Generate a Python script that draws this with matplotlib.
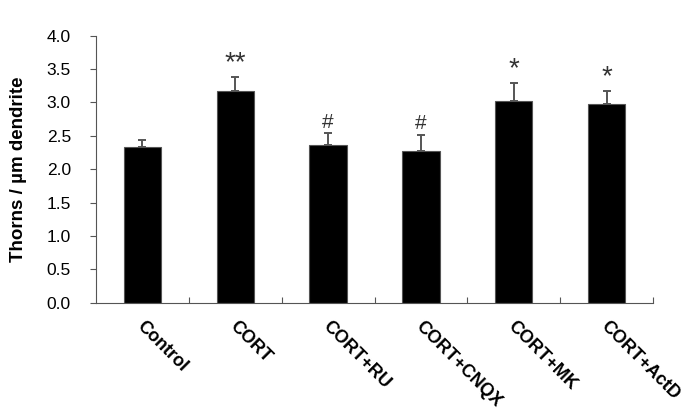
import matplotlib
matplotlib.use("Agg")
import matplotlib.pyplot as plt
import matplotlib.transforms as mtransforms
import numpy as np

# ======================================================
# DATA
# ======================================================

groups = ["Control", "CORT", "CORT+RU", "CORT+CNQX", "CORT+MK", "CORT+ActD"]
means = [2.33, 3.17, 2.36, 2.27, 3.02, 2.98]
errors = [0.11, 0.21, 0.18, 0.25, 0.27, 0.19]
marks = ["", "**", "#", "#", "*", "*"]

# ======================================================
# PLOT
# ======================================================

plt.rcParams["font.family"] = ["Liberation Sans", "DejaVu Sans"]

fig = plt.figure(figsize=(7, 4.2), dpi=100)
ax = fig.add_axes([0.137, 0.279, 0.796, 0.636])

x = np.arange(len(groups))

ax.bar(x, means, width=0.4, color="black", edgecolor="#555555", linewidth=0.8, zorder=2)
ax.errorbar(x, means, yerr=[np.zeros(len(errors)), errors], fmt="none",
            ecolor="#555555", elinewidth=1.4, capsize=3, capthick=1.4, zorder=1)

for xi, m, e, s in zip(x, means, errors, marks):
    if s:
        ax.text(xi, m + e + 0.02, s, ha="center", va="bottom",
                fontsize=20 if "*" in s else 15, color="#333333")

ax.set_xlim(-0.5, len(groups) - 0.5)
ax.set_ylim(0, 4.0)
ax.set_yticks(np.arange(0, 4.01, 0.5))
ax.set_yticklabels([f"{v:.1f}" for v in np.arange(0, 4.01, 0.5)], fontsize=12.5)

ax.set_xticks(x)
ax.set_xticklabels(groups, rotation=-45, ha="left", va="center",
                   rotation_mode="anchor", fontsize=13, fontweight="bold")
ax.set_xticks(np.arange(0.5, len(groups), 1.0), minor=True)
ax.tick_params(axis="x", which="major", length=0, pad=15)
ax.tick_params(axis="x", which="minor", direction="in", length=4, width=0.8, color="#555555")
ax.tick_params(axis="y", direction="out", length=4, width=0.8, color="#555555", pad=14)

offset = mtransforms.ScaledTranslation(-3 / 100, 0, fig.dpi_scale_trans)
for lbl in ax.get_xticklabels():
    lbl.set_transform(lbl.get_transform() + offset)

for side in ["top", "right"]:
    ax.spines[side].set_visible(False)
for side in ["left", "bottom"]:
    ax.spines[side].set_color("#555555")
    ax.spines[side].set_linewidth(0.8)

ax.set_ylabel("Thorns / µm dendrite", fontsize=13.5, fontweight="bold", labelpad=14)

fig.savefig("out.png", dpi=100)
plt.close(fig)
